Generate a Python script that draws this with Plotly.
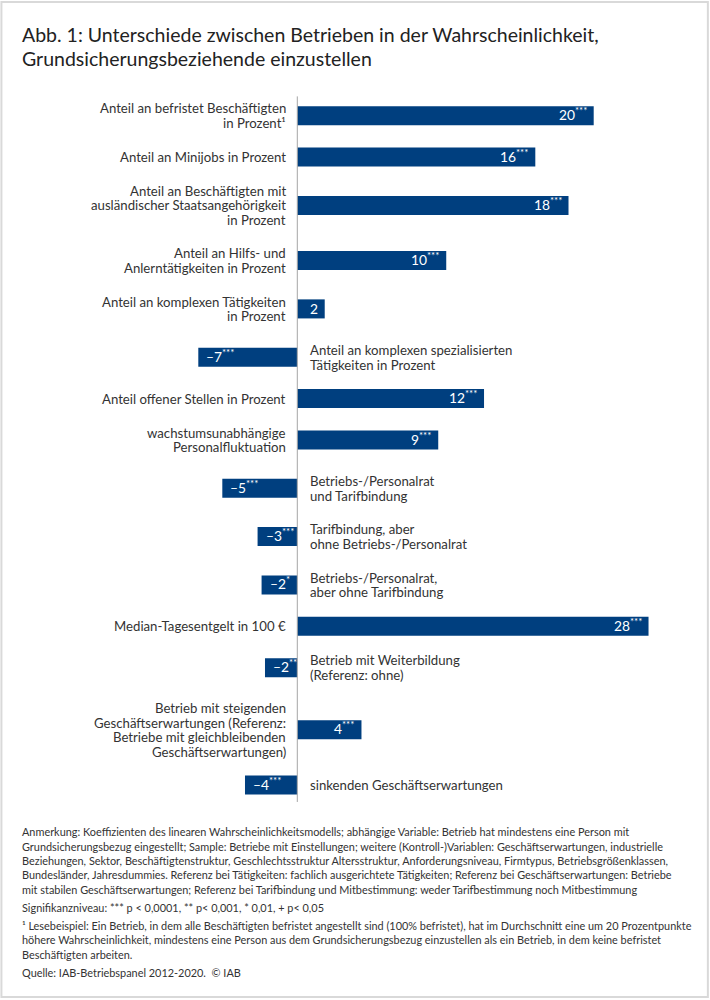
import plotly.graph_objects as go

categories = [
    "Anteil an befristet Beschäftigten<br>in Prozent¹",
    "Anteil an Minijobs in Prozent",
    "Anteil an Beschäftigten mit<br>ausländischer Staatsangehörigkeit<br>in Prozent",
    "Anteil an Hilfs- und<br>Anlerntätigkeiten in Prozent",
    "Anteil an komplexen Tätigkeiten<br>in Prozent",
    "Anteil an komplexen spezialisierten<br>Tätigkeiten in Prozent",
    "Anteil offener Stellen in Prozent",
    "wachstumsunabhängige<br>Personalfluktuation",
    "Betriebs-/Personalrat<br>und Tarifbindung",
    "Tarifbindung, aber<br>ohne Betriebs-/Personalrat",
    "Betriebs-/Personalrat,<br>aber ohne Tarifbindung",
    "Median-Tagesentgelt in 100 €",
    "Betrieb mit Weiterbildung<br>(Referenz: ohne)",
    "Betrieb mit steigenden<br>Geschäftserwartungen (Referenz:<br>Betriebe mit gleichbleibenden<br>Geschäftserwartungen)",
    "sinkenden Geschäftserwartungen",
]
bar_values = [20.0, 16.06, 18.3, 10.05, 1.85, -6.68, 12.6, 9.51,
              -5.06, -2.68, -2.41, 23.7, -2.18, 4.33, -3.53]
value_labels = ["20***", "16***", "18***", "10***", "2", "–7***", "12***", "9***",
                "–5***", "–3***", "–2*", "28***", "–2**", "4***", "–4***"]

title_lines = [
    "Abb. 1: Unterschiede zwischen Betrieben in der Wahrscheinlichkeit,",
    "Grundsicherungsbeziehende einzustellen",
]
notes = [
    ["Anmerkung: Koeffizienten des linearen Wahrscheinlichkeitsmodells; abhängige Variable: Betrieb hat mindestens eine Person mit",
     "Grundsicherungsbezug eingestellt; Sample: Betriebe mit Einstellungen; weitere (Kontroll-)Variablen: Geschäftserwartungen, industrielle",
     "Beziehungen, Sektor, Beschäftigtenstruktur, Geschlechtsstruktur Altersstruktur, Anforderungsniveau, Firmtypus, Betriebsgrößenklassen,",
     "Bundesländer, Jahresdummies. Referenz bei Tätigkeiten: fachlich ausgerichtete Tätigkeiten; Referenz bei Geschäftserwartungen: Betriebe",
     "mit stabilen Geschäftserwartungen; Referenz bei Tarifbindung und Mitbestimmung: weder Tarifbestimmung noch Mitbestimmung"],
    ["Signifikanzniveau: *** p < 0,0001, ** p< 0,001, * 0,01, + p< 0,05"],
    ["¹ Lesebeispiel: Ein Betrieb, in dem alle Beschäftigten befristet angestellt sind (100% befristet), hat im Durchschnitt eine um 20 Prozentpunkte",
     "höhere Wahrscheinlichkeit, mindestens eine Person aus dem Grundsicherungsbezug einzustellen als ein Betrieb, in dem keine befristet",
     "Beschäftigten arbeiten."],
    ["Quelle: IAB-Betriebspanel 2012-2020.  © IAB"],
]

W, H = 710, 1000
BAR = "#003f7f"
TXT = "#333333"
FONT = "Lato"

# row positions in "line units": rows with more label lines get more room
n_lines = [c.count("<br>") + 1 for c in categories]
rows = [0.0]
for i in range(1, len(categories)):
    rows.append(rows[-1] + 1.5 + (n_lines[i - 1] + n_lines[i]) / 2)

line_px = 13.8      # pixels per line unit
first_px = 115.7    # pixel centre of the first bar
zero_px = 297.3
unit_px = 14.82     # pixels per coefficient point
label_step = 14.6 / line_px   # spacing of label lines

fig = go.Figure()
fig.add_trace(go.Bar(
    x=bar_values, y=rows, orientation="h", width=1.38,
    marker=dict(color=BAR, line=dict(width=0)),
    hoverinfo="skip",
))

ann = []
for cat, v, lab, y in zip(categories, bar_values, value_labels, rows):
    pos = v >= 0
    parts = cat.split("<br>")
    # category text on the opposite side of the bar, one line at a time
    for j, part in enumerate(parts):
        ann.append(dict(
            x=0, y=y + (j - (len(parts) - 1) / 2) * label_step,
            xref="x", yref="y", text=part, showarrow=False,
            xanchor="right" if pos else "left",
            xshift=-9 if pos else 11, yanchor="middle",
            font=dict(family=FONT, size=13.2, color=TXT),
        ))
    star = lab.find("*")
    txt = lab if star < 0 else lab[:star] + "<sup>" + lab[star:] + "</sup>"
    ann.append(dict(
        x=v, y=y, xref="x", yref="y", text=txt, showarrow=False,
        xanchor="right" if pos else "left", xshift=-5 if pos else 6,
        yshift=2 if star >= 0 else 0,
        yanchor="middle", font=dict(family=FONT, size=13.8, color="white"),
    ))

for i, t in enumerate(title_lines):
    ann.append(dict(
        x=20 / W, y=1 - (34 + 24 * i) / H, xref="paper", yref="paper",
        text=t, showarrow=False, xanchor="left", yanchor="middle",
        font=dict(family=FONT, size=19.5, color="#222222"),
    ))

y_px = 831.7
for para in notes:
    for line in para:
        ann.append(dict(
            x=20 / W, y=1 - y_px / H, xref="paper", yref="paper",
            text=line, showarrow=False, xanchor="left", yanchor="middle",
            font=dict(family=FONT, size=10.9, color=TXT),
        ))
        y_px += 14.4
    y_px += 3.6

shapes = [
    # zero line
    dict(type="line", xref="x", yref="y", x0=0, x1=0,
         y0=rows[0] - 1.4, y1=rows[-1] + 1.23,
         line=dict(color="#a6a6a6", width=1)),
    # outer frame
    dict(type="rect", xref="paper", yref="paper", x0=0.002, x1=0.997,
         y0=0.003, y1=0.998, line=dict(color="#d9d9d9", width=2)),
]

fig.update_layout(
    width=W, height=H,
    margin=dict(l=0, r=0, t=0, b=0),
    xaxis=dict(visible=False, domain=[0, 1],
               range=[-zero_px / unit_px, (W - zero_px) / unit_px]),
    yaxis=dict(visible=False, domain=[0, 1],
               range=[(H - first_px) / line_px, -first_px / line_px]),
    plot_bgcolor="white", paper_bgcolor="white",
    showlegend=False, annotations=ann, shapes=shapes,
    font=dict(family=FONT),
)

fig.write_html("out.html", config={"displayModeBar": False},
               post_script="document.body.style.margin='0px';")
